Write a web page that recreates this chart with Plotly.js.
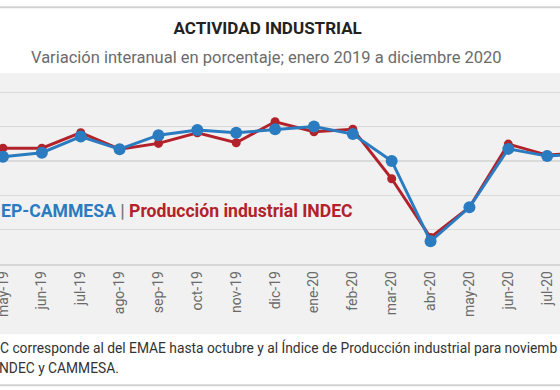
<!DOCTYPE html>
<html>
<head>
<meta charset="utf-8">
<script src="https://cdn.plot.ly/plotly-3.0.1.min.js"></script>
<style>html,body{margin:0;padding:0;background:#fff;}#chart{width:560px;height:390px;}</style>
</head>
<body>
<div id="chart"></div>
<script>
// Months visible in the (cropped) reference
var months = ['may-19','jun-19','jul-19','ago-19','sep-19','oct-19','nov-19','dic-19','ene-20','feb-20','mar-20','abr-20','may-20','jun-20','jul-20','ago-20'];
// Producción industrial INDEC (red)
var indec = [-6.3,-6.3,-1.8,-6.6,-4.9,-1.8,-4.7,1.4,-1.5,-0.8,-15.2,-32.3,-23.5,-5.1,-8.3,-7.6];
// UIA-CEP-CAMMESA (blue)
var cammesa = [-8.8,-7.6,-2.9,-6.6,-2.5,-1.0,-1.8,-0.8,0.0,-2.2,-10.0,-33.4,-23.5,-6.5,-8.6,-7.8];

var titleText = 'ACTIVIDAD INDUSTRIAL';
var subtitleText = 'Variación interanual en porcentaje; enero 2019 a diciembre 2020';
var legendBlue = 'EP-CAMMESA';
var legendRed = 'Producción industrial INDEC';
var footer1 = 'C corresponde al del EMAE hasta octubre y al Índice de Producción industrial para noviemb';
var footer2 = 'NDEC y CAMMESA.';

var RED = '#b3222a', BLUE = '#2a7bc0';

var H = 390, T = 75, B = 264.5;
function py(p){ return (B - p) / (B - T); }

var traces = [
  {x: months, y: indec, type: 'scatter', mode: 'lines+markers',
   line: {color: RED, width: 3}, marker: {color: RED, size: 9}, hoverinfo: 'skip'},
  {x: months, y: cammesa, type: 'scatter', mode: 'lines+markers',
   line: {color: BLUE, width: 3}, marker: {color: BLUE, size: 12}, hoverinfo: 'skip'}
];

var layout = {
  width: 560, height: 390,
  margin: {l: 0, r: 0, t: T, b: H - B, pad: 0},
  paper_bgcolor: '#ffffff',
  plot_bgcolor: 'rgba(0,0,0,0)',
  showlegend: false,
  font: {family: 'Roboto, sans-serif'},
  title: {text: '<b>' + titleText + '</b>', x: 0.478, xanchor: 'center', y: 1 - 28/H, yanchor: 'middle',
          font: {size: 17, color: '#222222', family: 'Roboto, sans-serif'}},
  xaxis: {type: 'category', categoryorder: 'array', categoryarray: months,
          range: [-0.077, 14.33], showgrid: false, zeroline: false,
          showline: true, linecolor: '#d6d6d6', linewidth: 1.5,
          ticks: '', tickangle: -90, tickfont: {size: 14, color: '#6a6a6a', family: 'Roboto, sans-serif'}},
  yaxis: {range: [-40, 15], dtick: 10, tick0: 0, showgrid: true, gridcolor: '#dadada', gridwidth: 1.3,
          zeroline: false, showticklabels: false, ticks: '', fixedrange: true},
  shapes: [
    {type: 'rect', xref: 'paper', yref: 'paper', x0: -0.02, x1: 1.02, y0: py(335), y1: py(73),
     fillcolor: '#f1f1f1', line: {width: 0}, layer: 'below'},
    {type: 'line', xref: 'paper', yref: 'paper', x0: -0.02, x1: 1.02, y0: py(7), y1: py(7),
     line: {color: '#d2d2d2', width: 2}},
    {type: 'line', xref: 'paper', yref: 'paper', x0: -0.02, x1: 1.02, y0: py(386), y1: py(386),
     line: {color: '#d2d2d2', width: 2}}
  ],
  annotations: [
    {text: subtitleText, xref: 'paper', yref: 'paper', x: 0.476, y: py(57), xanchor: 'center', yanchor: 'middle',
     showarrow: false, font: {size: 16.5, color: '#6b6b6b', family: 'Roboto, sans-serif'}},
    {text: '<b><span style="color:' + BLUE + '">' + legendBlue + '</span> <span style="color:#777">|</span> <span style="color:' + RED + '">' + legendRed + '</span></b>',
     xref: 'paper', yref: 'paper', x: -0.002, y: py(211), xanchor: 'left', yanchor: 'middle',
     showarrow: false, font: {size: 17.6, family: 'Roboto, sans-serif'}},
    {text: footer1, xref: 'paper', yref: 'paper', x: -0.004, y: py(348), xanchor: 'left', yanchor: 'middle',
     showarrow: false, font: {size: 13.8, color: '#333333', family: 'Roboto, sans-serif'}},
    {text: footer2, xref: 'paper', yref: 'paper', x: -0.006, y: py(369), xanchor: 'left', yanchor: 'middle',
     showarrow: false, font: {size: 13.8, color: '#333333', family: 'Roboto, sans-serif'}}
  ]
};

Plotly.newPlot('chart', traces, layout, {staticPlot: true, displayModeBar: false});
</script>
</body>
</html>
